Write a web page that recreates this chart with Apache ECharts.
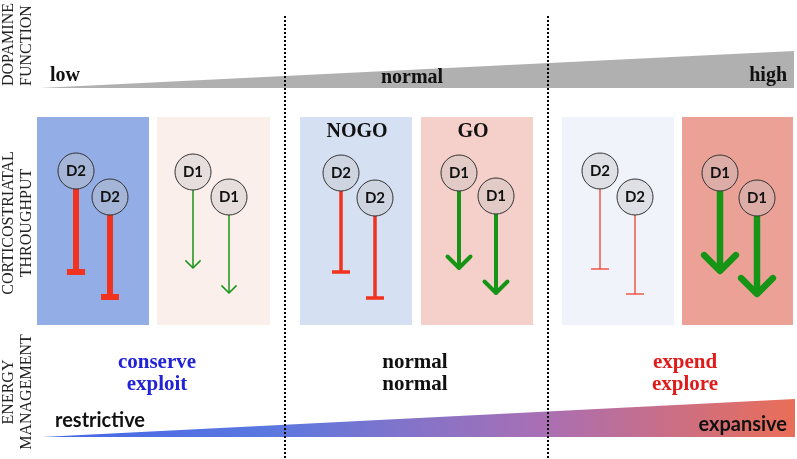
<!DOCTYPE html>
<html>
<head>
<meta charset="utf-8">
<title>Dopamine function and corticostriatal throughput</title>
<script src="https://cdn.jsdelivr.net/npm/echarts@6/dist/echarts.min.js"></script>
<style>
  html, body { margin: 0; padding: 0; background: #fff; }
  #main { width: 797px; height: 459px; }
</style>
</head>
<body>
<div id="main"></div>
<script>
// panels: [left, right] along x, one per receptor column
const panelX = [[37, 149], [157, 270], [300, 412], [421, 533], [562, 674], [682, 793]];
const panelY = [117, 325];
const receptors = ["D2", "D1", "D2", "D1", "D2", "D1"];
// two cells per panel
const cellX = [[76, 110], [193, 229], [341, 375], [459, 496], [600, 635], [720, 757]];
const cellY = [[171, 197], [172, 197], [173, 198], [173, 196], [171, 197], [173, 198]];
const targetY = [[272, 297], [268, 293], [272, 298], [268, 293], [269, 294], [271, 294]];
// pathway strength (drawn as stroke width)
const throughput = [6, 1.5, 3.5, 4, 1.2, 6.5];
// gradient wedges: [x start, x end, baseline, rise at end]
const dopamineWedge = [40, 794, 88, 37];
const energyWedge = [42, 795, 437, 38];
const dividerX = [285, 548];
const levelLabels = ["low", "normal", "high"];
const energyLabels = [["conserve", "exploit"], ["normal", "normal"], ["expend", "explore"]];

const panelColors = ["#93ade6", "#fbefec", "#d6e0f3", "#f5cfc9", "#f0f3fa", "#eca196"];
const red = "#f0321e";
const green = "#169416";
const cellSize = 36;

let myChart = echarts.init(document.getElementById("main"));

let panelData = panelX.map(function (p) {
  return [p[0], p[1], panelY[0], panelY[1]];
});

let cellData = [];
let pathData = [];
receptors.forEach(function (r, i) {
  for (let k = 0; k < 2; k++) {
    cellData.push({ value: [cellX[i][k], cellY[i][k]], name: r });
    pathData.push([cellX[i][k], cellY[i][k], targetY[i][k], throughput[i], r === "D1" ? 1 : 0]);
  }
});

function serif(size) {
  return "bold " + size + 'px "Liberation Serif", "DejaVu Serif", serif';
}

function sideLabel(text, x, y, align) {
  return {
    type: "text", x: x, y: y, rotation: Math.PI / 2,
    style: { text: text, font: '16px "Liberation Serif", serif', fill: "#222", align: align, verticalAlign: "middle" },
  };
}

myChart.setOption({
  animation: false,
  grid: { left: 0, right: 0, top: 0, bottom: 0 },
  xAxis: { type: "value", min: 0, max: 797, show: false },
  yAxis: { type: "value", min: 0, max: 459, inverse: true, show: false },
  series: [
    {
      name: "panels",
      type: "custom",
      z: 1,
      data: panelData,
      renderItem: function (params, api) {
        let a = api.coord([api.value(0), api.value(2)]);
        let b = api.coord([api.value(1), api.value(3)]);
        return {
          type: "rect",
          shape: { x: a[0], y: a[1], width: b[0] - a[0], height: b[1] - a[1] },
          style: { fill: panelColors[params.dataIndex] },
        };
      },
    },
    {
      name: "wedges",
      type: "custom",
      z: 1,
      data: [dopamineWedge, energyWedge],
      renderItem: function (params, api) {
        let x0 = api.value(0), x1 = api.value(1), base = api.value(2), rise = api.value(3);
        let pts = [api.coord([x0, base]), api.coord([x1, base - rise]), api.coord([x1, base])];
        let fill = "#b0b0b0";
        if (params.dataIndex === 1) {
          fill = new echarts.graphic.LinearGradient(0, 0, 1, 0, [
            { offset: 0, color: "#4466e6" },
            { offset: 0.3, color: "#5a78e0" },
            { offset: 0.66, color: "#a86fb5" },
            { offset: 1, color: "#ea6e58" },
          ]);
        }
        return { type: "polygon", shape: { points: pts }, style: { fill: fill } };
      },
    },
    {
      name: "dividers",
      type: "custom",
      z: 2,
      data: dividerX.map(function (x) { return [x, 16, 459]; }),
      renderItem: function (params, api) {
        let a = api.coord([api.value(0), api.value(1)]);
        let b = api.coord([api.value(0), api.value(2)]);
        return {
          type: "line",
          shape: { x1: a[0], y1: a[1], x2: b[0], y2: b[1] },
          style: { stroke: "#000", lineWidth: 2, lineDash: [2, 2] },
        };
      },
    },
    {
      name: "pathways",
      type: "custom",
      z: 3,
      data: pathData,
      renderItem: function (params, api) {
        let x = api.value(0), y0 = api.value(1), y1 = api.value(2);
        let t = api.value(3), arrow = api.value(4) === 1;
        let color = arrow ? green : red;
        let top = api.coord([x, y0]);
        let startY = top[1] + cellSize / 2;
        let tip = api.coord([x, y1]);
        let children = [];
        if (arrow) {
          let s = 4.5 + 1.75 * t;
          children.push({
            type: "line",
            shape: { x1: top[0], y1: startY, x2: tip[0], y2: tip[1] - t / 2 },
            style: { stroke: color, lineWidth: t },
          });
          children.push({
            type: "polyline",
            shape: { points: [[tip[0] - s, tip[1] - s], [tip[0], tip[1]], [tip[0] + s, tip[1] - s]] },
            style: { stroke: color, lineWidth: t, lineJoin: "round", lineCap: "round", fill: null },
          });
        } else {
          children.push({
            type: "line",
            shape: { x1: top[0], y1: startY, x2: tip[0], y2: tip[1] },
            style: { stroke: color, lineWidth: t },
          });
          children.push({
            type: "line",
            shape: { x1: tip[0] - 9, y1: tip[1], x2: tip[0] + 9, y2: tip[1] },
            style: { stroke: color, lineWidth: t },
          });
        }
        return { type: "group", children: children };
      },
    },
    {
      name: "cells",
      type: "scatter",
      z: 4,
      symbol: "circle",
      symbolSize: cellSize,
      data: cellData,
      itemStyle: {
        color: "rgba(195,195,195,0.38)",
        borderColor: "#333",
        borderWidth: 1,
        opacity: 1,
      },
      label: {
        show: true,
        position: "inside",
        formatter: "{b}",
        color: "#111",
        fontFamily: "Lato, sans-serif",
        fontWeight: "bold",
        fontSize: 15,
      },
      emphasis: { disabled: true },
    },
  ],
  graphic: [
    sideLabel("DOPAMINE", 9, 86, "left"),
    sideLabel("FUNCTION", 27, 86, "left"),
    sideLabel("CORTICOSTRIATAL", 9, 223, "center"),
    sideLabel("THROUGHPUT", 27, 223, "center"),
    sideLabel("ENERGY", 9, 392, "center"),
    sideLabel("MANAGEMENT", 27, 392, "center"),

    { type: "text", x: 50, y: 76, z: 10, style: { text: levelLabels[0], font: serif(20), fill: "#111", align: "left", verticalAlign: "middle" } },
    { type: "text", x: 412, y: 78, z: 10, style: { text: levelLabels[1], font: serif(20), fill: "#111", align: "center", verticalAlign: "middle" } },
    { type: "text", x: 787, y: 76, z: 10, style: { text: levelLabels[2], font: serif(20), fill: "#111", align: "right", verticalAlign: "middle" } },

    { type: "text", x: 357, y: 132, z: 10, style: { text: "NOGO", font: serif(20), fill: "#111", align: "center", verticalAlign: "middle" } },
    { type: "text", x: 473, y: 132, z: 10, style: { text: "GO", font: serif(20), fill: "#111", align: "center", verticalAlign: "middle" } },

    { type: "text", x: 157, y: 363, style: { text: energyLabels[0][0], font: serif(21), fill: "#2222d8", align: "center", verticalAlign: "middle" } },
    { type: "text", x: 157, y: 385, style: { text: energyLabels[0][1], font: serif(21), fill: "#2222d8", align: "center", verticalAlign: "middle" } },
    { type: "text", x: 415, y: 363, style: { text: energyLabels[1][0], font: serif(21), fill: "#111", align: "center", verticalAlign: "middle" } },
    { type: "text", x: 415, y: 385, style: { text: energyLabels[1][1], font: serif(21), fill: "#111", align: "center", verticalAlign: "middle" } },
    { type: "text", x: 685, y: 363, style: { text: energyLabels[2][0], font: serif(21), fill: "#e01b1b", align: "center", verticalAlign: "middle" } },
    { type: "text", x: 685, y: 385, style: { text: energyLabels[2][1], font: serif(21), fill: "#e01b1b", align: "center", verticalAlign: "middle" } },

    { type: "text", x: 55, y: 421, z: 10, style: { text: "restrictive", font: "bold 20px Lato, sans-serif", fill: "#111", align: "left", verticalAlign: "middle" } },
    { type: "text", x: 787, y: 425, z: 10, style: { text: "expansive", font: "bold 20px Lato, sans-serif", fill: "#111", align: "right", verticalAlign: "middle" } },
  ],
});
</script>
</body>
</html>
